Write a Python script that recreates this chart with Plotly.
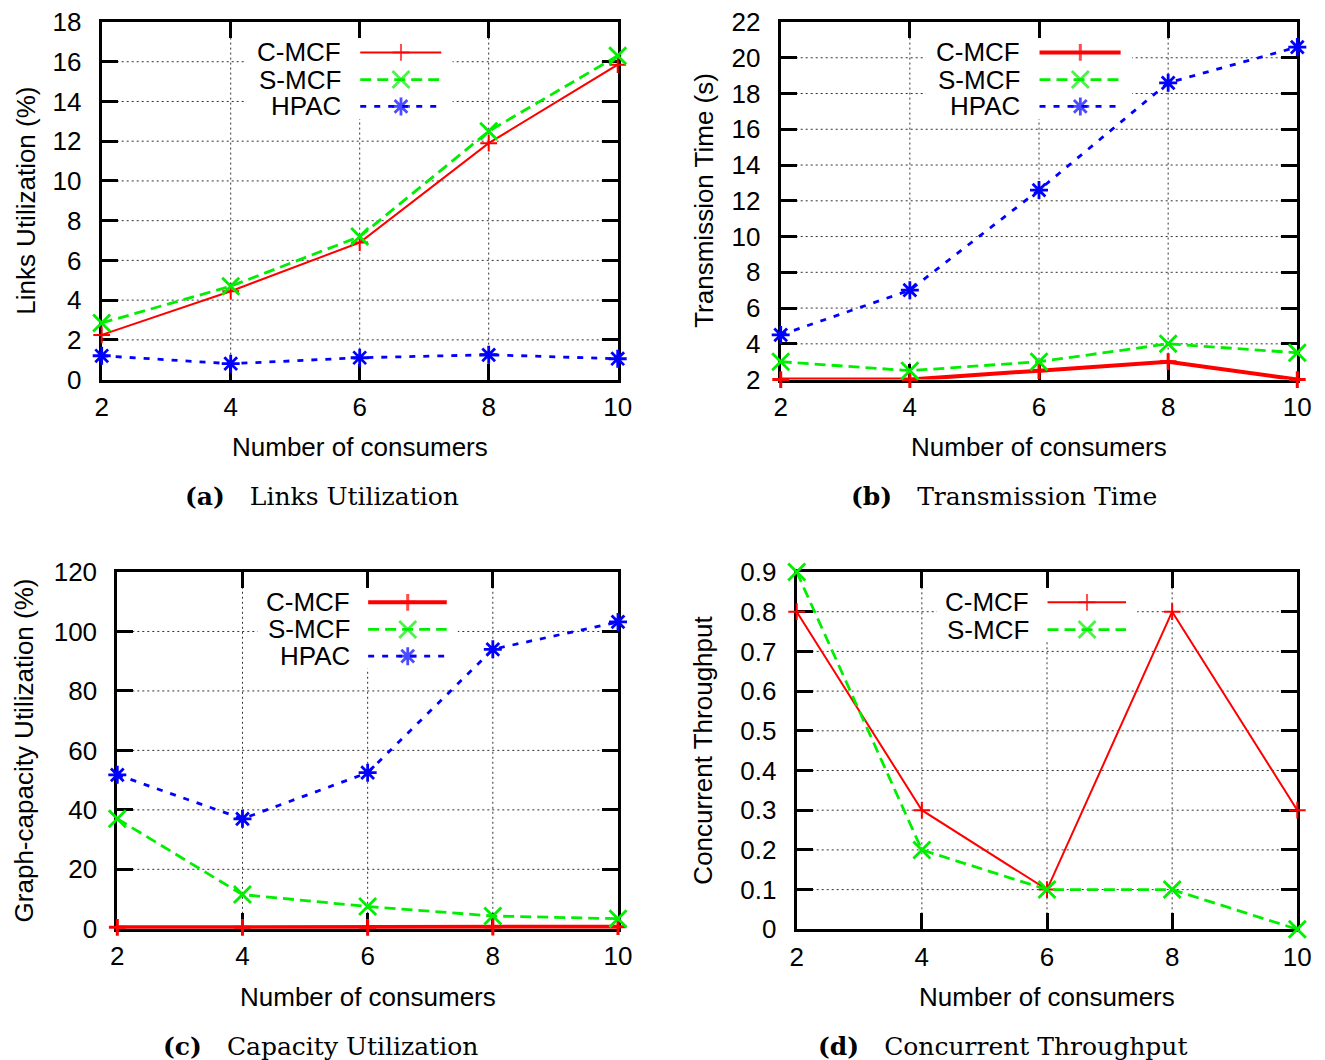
import plotly.graph_objects as go

W, H = 1325, 1060

# ---------------- data ----------------
consumers = [2, 4, 6, 8, 10]

links_cmcf = [2.25, 4.45, 6.9, 11.9, 15.85]
links_smcf = [2.85, 4.7, 7.2, 12.5, 16.3]
links_hpac = [1.2, 0.8, 1.1, 1.25, 1.05]

time_cmcf = [2.0, 2.0, 2.5, 3.0, 2.0]
time_smcf = [3.0, 2.5, 3.0, 4.0, 3.5]
time_hpac = [4.5, 7.0, 12.6, 18.6, 20.6]

cap_cmcf = [0.5, 0.5, 0.5, 0.6, 0.7]
cap_smcf = [37.0, 11.5, 7.5, 4.3, 3.4]
cap_hpac = [51.8, 37.0, 52.5, 94.0, 103.2]

thr_cmcf = [0.8, 0.3, 0.1, 0.8, 0.3]
thr_smcf = [0.9, 0.2, 0.1, 0.1, 0.0]

series_names = ["C-MCF", "S-MCF", "HPAC"]
y_titles = ["Links Utilization (%)", "Transmission Time (s)",
            "Graph-capacity Utilization (%)", "Concurrent Throughput"]
x_title = "Number of consumers"
captions = [("(a)", "Links Utilization"), ("(b)", "Transmission Time"),
            ("(c)", "Capacity Utilization"), ("(d)", "Concurrent Throughput")]

# ---------------- styles ----------------
SANS = "Liberation Sans"
SERIF = "DejaVu Serif"
STYLE = {
    "C-MCF": dict(color="#ff0000", dash="solid", symbol="cross-thin", msize=12),
    "S-MCF": dict(color="#00ee00", dash="11px,6px", symbol="x-thin", msize=17, width=2.8),
    "HPAC": dict(color="#0000ff", dash="6px,8px", symbol="asterisk", msize=15, width=2.8),
}
GRID = dict(color="#333333", width=1, dash="2px,3px")

panels = [
    dict(box=(101.7, 22.0, 617.7, 379.6), yrange=[0, 18], dtick=2,
         series=[links_cmcf, links_smcf, links_hpac], cw=2,
         ytx=26, xtc=(359.7, 446.7), cap=(322, 496.7)),
    dict(box=(780.7, 22.0, 1297.3, 379.6), yrange=[2, 22], dtick=2,
         series=[time_cmcf, time_smcf, time_hpac], cw=4,
         ytx=704, xtc=(1039, 446.7), cap=(1004, 496.7)),
    dict(box=(117.3, 572.0, 618.0, 928.8), yrange=[0, 120], dtick=20,
         series=[cap_cmcf, cap_smcf, cap_hpac], cw=4,
         ytx=24, xtc=(367.6, 996.7), cap=(320, 1046.7)),
    dict(box=(796.7, 572.0, 1297.3, 929.3), yrange=[0, 0.9], dtick=0.1,
         series=[thr_cmcf, thr_smcf], cw=2,
         ytx=703, xtc=(1047, 996.7), cap=(1002, 1046.7)),
]

XRANGE = [2, 10]
LEG_ROWS = [0.915, 0.839, 0.764]
LEG_TEXT_X = 0.468
LEG_LINE = (0.501, 0.58, 0.658)

fig = go.Figure()
layout = dict(template="none", width=W, height=H, autosize=False,
              margin=dict(l=0, r=0, t=0, b=0, pad=0, autoexpand=False),
              paper_bgcolor="white", plot_bgcolor="white", showlegend=False,
              font=dict(family=SANS, size=26, color="black"))
annotations = []
shapes = []


def sfx(n):
    return "" if n == 1 else str(n)


for i, p in enumerate(panels, start=1):
    x0, y0, x1, y1 = p["box"]
    xd = [x0 / W, x1 / W]
    yd = [1 - y1 / H, 1 - y0 / H]
    xa, ya = "x" + sfx(i), "y" + sfx(i)
    ymin, ymax = p["yrange"]
    common = dict(ticks="inside", ticklen=16, tickwidth=2.5, tickcolor="black",
                  showline=True, linewidth=3, linecolor="black", mirror="allticks",
                  showgrid=False, zeroline=False, layer="below traces", automargin=False,
                  tickfont=dict(family=SANS, size=26, color="black"))
    layout["xaxis" + sfx(i)] = dict(domain=xd, anchor=ya, range=XRANGE,
                                   tickvals=consumers, ticklabelstandoff=2, **common)
    layout["yaxis" + sfx(i)] = dict(domain=yd, anchor=xa, range=p["yrange"],
                                   dtick=p["dtick"], tick0=0, ticklabelstandoff=12, **common)

    # dotted grid at the inner tick positions
    for xv in consumers[1:-1]:
        shapes.append(dict(type="line", xref=xa, yref=ya + " domain", x0=xv, x1=xv,
                           y0=0, y1=1, line=GRID, layer="below"))
    nt = int(round((ymax - ymin) / p["dtick"]))
    for t in range(1, nt):
        yv = ymin + t * p["dtick"]
        shapes.append(dict(type="line", xref=xa + " domain", yref=ya, x0=0, x1=1,
                           y0=yv, y1=yv, line=GRID, layer="below"))

    def to_x(f):
        return XRANGE[0] + f * (XRANGE[1] - XRANGE[0])

    def to_y(f):
        return ymin + f * (ymax - ymin)

    nser = len(p["series"])
    # white key box (masks the grid behind the key)
    shapes.append(dict(type="rect", xref=xa + " domain", yref=ya + " domain",
                       x0=0.28, x1=0.68, y0=LEG_ROWS[nser - 1] - 0.035, y1=0.955,
                       fillcolor="white", line=dict(width=0), layer="below"))

    for k, (name, vals) in enumerate(zip(series_names, p["series"])):
        st = STYLE[name]
        lw = p["cw"] if name == "C-MCF" else st["width"]
        mlw = 2 if lw <= 2 else (3 if name == "C-MCF" else 2.8)
        line = dict(color=st["color"], width=lw, dash=st["dash"])
        marker = dict(symbol=st["symbol"], size=st["msize"], color=st["color"],
                      line=dict(color=st["color"], width=mlw))
        fig.add_trace(go.Scatter(x=consumers, y=vals, mode="lines+markers", name=name,
                                 line=line, marker=marker, cliponaxis=False,
                                 xaxis=xa, yaxis=ya, hoverinfo="skip"))
        # key sample
        row = LEG_ROWS[k]
        m2 = dict(marker)
        m2["size"] = [0, st["msize"], 0]
        fig.add_trace(go.Scatter(x=[to_x(f) for f in LEG_LINE],
                                 y=[to_y(row)] * 3, mode="lines+markers",
                                 line=line, marker=m2, xaxis=xa, yaxis=ya,
                                 hoverinfo="skip", cliponaxis=False))
        annotations.append(dict(xref=xa + " domain", yref=ya + " domain", x=LEG_TEXT_X, y=row,
                                xanchor="right", yanchor="middle", showarrow=False,
                                text=name, font=dict(family=SANS, size=26, color="black")))

    # axis titles
    annotations.append(dict(xref="paper", yref="paper", x=p["ytx"] / W,
                            y=1 - (y0 + y1) / 2 / H, textangle=-90, showarrow=False,
                            xanchor="center", yanchor="middle", text=y_titles[i - 1],
                            font=dict(family=SANS, size=26, color="black")))
    annotations.append(dict(xref="paper", yref="paper", x=p["xtc"][0] / W,
                            y=1 - p["xtc"][1] / H, showarrow=False,
                            xanchor="center", yanchor="middle", text=x_title,
                            font=dict(family=SANS, size=26, color="black")))
    tag, cap = captions[i - 1]
    annotations.append(dict(xref="paper", yref="paper", x=p["cap"][0] / W,
                            y=1 - p["cap"][1] / H, showarrow=False,
                            xanchor="center", yanchor="middle",
                            text="<b>" + tag + "</b>\u2003" + cap,
                            font=dict(family=SERIF, size=25, color="black")))

layout["annotations"] = annotations
layout["shapes"] = shapes
fig.update_layout(**layout)
fig.write_html("out.html",
               config={"responsive": False, "displayModeBar": False},
               post_script=("var d=document.getElementById('{plot_id}');"
                            "d.style.position='fixed';d.style.left='0px';d.style.top='0px';"))
